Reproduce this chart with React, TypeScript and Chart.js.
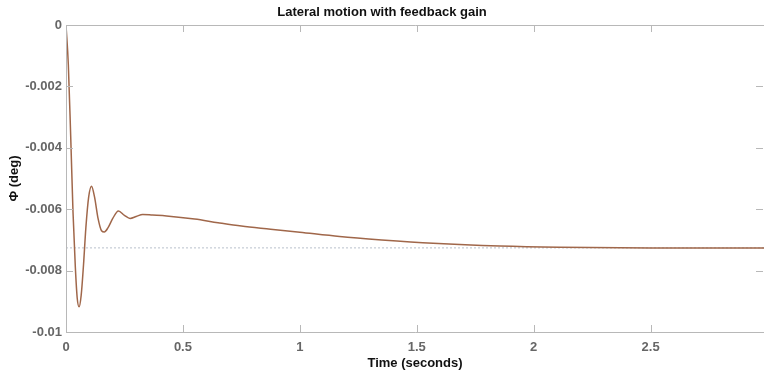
import React, { useEffect, useRef } from "react";
import { Chart, registerables } from "chart.js";

Chart.register(...registerables);

// Response data
const timeSec: number[] = [
  0, 0.01, 0.02, 0.03, 0.04, 0.048, 0.056, 0.065, 0.075, 0.085, 0.097, 0.109,
  0.122, 0.137, 0.152, 0.164, 0.18, 0.2, 0.224, 0.25, 0.274, 0.3, 0.328, 0.37,
  0.43, 0.55, 0.65, 0.75, 0.875, 1.0, 1.17, 1.35, 1.57, 1.855, 2.11, 2.5, 2.985,
];
const phiDeg: number[] = [
  0, -0.0013, -0.0036, -0.0061, -0.0079, -0.0089, -0.00918, -0.0088, -0.0078,
  -0.0066, -0.0056, -0.00525, -0.0056, -0.0063, -0.0067, -0.00674, -0.0066,
  -0.0063, -0.00606, -0.0062, -0.0063, -0.00624, -0.00617, -0.00619, -0.00622,
  -0.00632, -0.00644, -0.00655, -0.00665, -0.00675, -0.00689, -0.007,
  -0.00711, -0.0072, -0.00724, -0.00726, -0.00726,
];
const steadyStateTime: number[] = [0, 2.985];
const steadyStateValue: number[] = [-0.00726, -0.00726];

const xTickValues: number[] = [0, 0.5, 1, 1.5, 2, 2.5];
const yTickValues: number[] = [0, -0.002, -0.004, -0.006, -0.008, -0.01];

const chartTitle = "Lateral motion with feedback gain";
const xAxisTitle = "Time (seconds)";
const yAxisTitle = "Φ (deg)";

const FONT = "'Liberation Sans', Arial, sans-serif";

const fmt = (v: number) => String(Number(Number(v).toFixed(4)));

const boxPlugin = {
  id: "boxPlugin",
  afterDatasetsDraw(chart: any) {
    const { ctx, chartArea, scales } = chart;
    const { left, right, top, bottom } = chartArea;
    ctx.save();
    ctx.strokeStyle = "#b8b8b8";
    ctx.lineWidth = 1;
    ctx.beginPath();
    ctx.moveTo(left + 0.5, top + 0.5);
    ctx.lineTo(right, top + 0.5);
    ctx.moveTo(left + 0.5, top);
    ctx.lineTo(left + 0.5, bottom + 0.5);
    ctx.lineTo(right, bottom + 0.5);
    const tl = 7;
    scales.x.ticks.forEach((t: any) => {
      const x = Math.round(scales.x.getPixelForValue(t.value)) + 0.5;
      ctx.moveTo(x, bottom);
      ctx.lineTo(x, bottom - tl);
      ctx.moveTo(x, top);
      ctx.lineTo(x, top + tl);
    });
    scales.y.ticks.forEach((t: any) => {
      const y = Math.round(scales.y.getPixelForValue(t.value)) + 0.5;
      ctx.moveTo(left, y);
      ctx.lineTo(left + tl, y);
      ctx.moveTo(right - 1, y);
      ctx.lineTo(right - 1 - tl, y);
    });
    ctx.stroke();
    ctx.restore();
  },
};

export default function App() {
  const ref = useRef<HTMLCanvasElement | null>(null);

  useEffect(() => {
    if (!ref.current) return;
    const chart = new Chart(ref.current, {
      type: "line",
      data: {
        datasets: [
          {
            label: "steady",
            data: steadyStateTime.map((t, i) => ({ x: t, y: steadyStateValue[i] })),
            borderColor: "#b9c0cc",
            borderWidth: 1,
            borderDash: [2, 2],
            pointRadius: 0,
            order: 2,
          },
          {
            label: "phi",
            data: timeSec.map((t, i) => ({ x: t, y: phiDeg[i] })),
            borderColor: "#a0674a",
            borderWidth: 1.5,
            pointRadius: 0,
            cubicInterpolationMode: "monotone",
            order: 1,
          },
        ],
      },
      options: {
        animation: false,
        responsive: false,
        maintainAspectRatio: false,
        layout: { padding: 0 },
        plugins: {
          legend: { display: false },
          tooltip: { enabled: false },
          title: {
            display: true,
            text: chartTitle,
            color: "#111",
            font: { family: FONT, size: 13, weight: "bold" },
            padding: { top: 4.7, bottom: 4.7 },
          },
        },
        scales: {
          x: {
            type: "linear",
            min: 0,
            max: 2.985,
            afterBuildTicks: (s: any) => {
              s.ticks = xTickValues.map((v) => ({ value: v }));
            },
            afterFit: (s: any) => {
              s.height = 42;
            },
            grid: { display: false, drawTicks: false },
            border: { display: false },
            ticks: {
              padding: 8,
              color: "#666",
              font: { family: FONT, size: 13, weight: "bold" },
              callback: (v: any) => fmt(v),
              maxRotation: 0,
              autoSkip: false,
            },
            title: {
              display: true,
              text: xAxisTitle,
              color: "#111",
              font: { family: FONT, size: 13, weight: "bold" },
              padding: { top: 0, bottom: 2.5 },
            },
          },
          y: {
            type: "linear",
            min: -0.01,
            max: 0,
            afterBuildTicks: (s: any) => {
              s.ticks = yTickValues.map((v) => ({ value: v }));
            },
            afterFit: (s: any) => {
              s.width = 66;
            },
            grid: { display: false, drawTicks: false },
            border: { display: false },
            ticks: {
              padding: 4,
              color: "#666",
              font: { family: FONT, size: 13, weight: "bold" },
              callback: (v: any) => fmt(v),
              autoSkip: false,
            },
            title: {
              display: true,
              text: yAxisTitle,
              color: "#111",
              font: { family: FONT, size: 13, weight: "bold" },
              padding: { top: 6.5, bottom: 0 },
            },
          },
        },
      },
      plugins: [boxPlugin],
    });
    return () => chart.destroy();
  }, []);

  return (
    <div style={{ position: "fixed", left: 0, top: 0, width: 764, height: 374, background: "#fff" }}>
      <canvas ref={ref} width={764} height={374} style={{ width: 764, height: 374 }} />
    </div>
  );
}
